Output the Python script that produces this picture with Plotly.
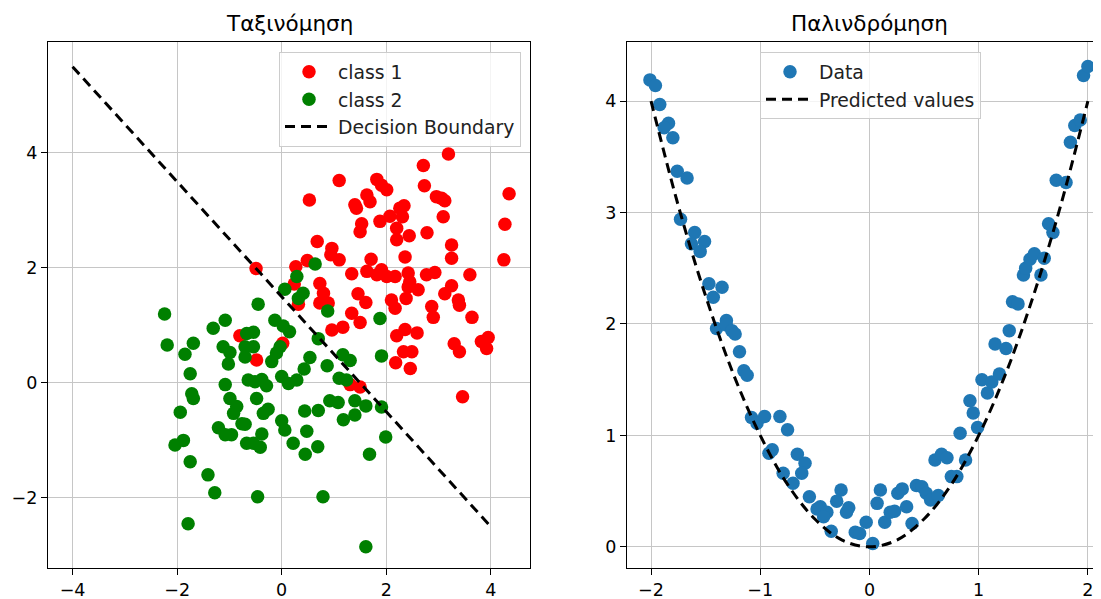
import plotly.graph_objects as go

# ---------------- Data ----------------
class1_x = [3.19, 2.71, 1.10, 1.82, 1.91, 2.01, 2.73, 4.35, 0.53, 1.63, 1.69, 1.40, 1.43, 2.96, 3.06, 3.12,
            2.26, 2.34, 2.31, 2.07, 1.88, 3.09, 4.27, 1.53, 1.50, 2.20, 2.20, 2.44, 2.78, 3.25, 3.25, 4.25,
            0.68, 0.96, 0.94, 1.10, 1.71, 2.36, 0.49, 1.34, 1.63, 1.82, 1.91, 2.01, 2.17, 2.42, 2.45, 2.77,
            2.93, 3.60, 0.73, 0.80, 0.73, 0.89, 1.46, 1.61, 2.42, 2.61, 2.38, 2.10, 2.17, 2.87, 3.25, 3.12,
            3.38, 3.40, 1.34, 2.90, 3.64, 1.50, 0.96, 1.17, 2.20, 2.36, 2.59, 2.33, 2.49, 2.18, 2.46, 3.30,
            3.40, 3.82, 3.95, 3.92, 3.46, 1.31, 1.50, -0.49, 0.27, 0.24, 0.32, -0.80, 0.02, -0.48]
class1_y = [3.98, 3.78, 3.52, 3.54, 3.44, 3.36, 3.43, 3.29, 3.18, 3.27, 3.15, 3.10, 3.04, 3.24, 3.21, 3.17,
            3.04, 3.08, 2.89, 2.90, 2.81, 2.89, 2.76, 2.77, 2.63, 2.69, 2.49, 2.56, 2.61, 2.40, 2.17, 2.14,
            2.46, 2.34, 2.23, 2.14, 2.15, 2.19, 2.13, 1.90, 1.94, 1.88, 1.97, 1.85, 1.85, 1.91, 1.76, 1.88,
            1.92, 1.88, 1.73, 1.56, 1.39, 1.39, 1.55, 1.40, 1.67, 1.62, 1.47, 1.44, 1.30, 1.33, 1.69, 1.55,
            1.44, 1.35, 1.21, 1.14, 1.14, 1.05, 0.92, 0.97, 0.82, 0.93, 0.87, 0.54, 0.54, 0.35, 0.25, 0.68,
            0.54, 0.72, 0.79, 0.60, -0.24, -0.03, -0.07, 1.99, 2.02, 1.72, 1.37, 0.82, 0.69, 0.40]

class2_x = [0.64, 0.29, 0.06, 0.41, 0.32, -0.45, -2.24, -1.08, -0.13, 0.88, 1.88, -1.31, 0.03, 0.15,
            -0.67, -0.54, -2.19, -1.69, -1.85, -1.12, -0.99, -1.02, -0.70, -0.54, -0.70, -0.03, -0.10,
            -0.19, -1.75, -1.08, -0.64, -0.51, -0.38, -0.29, 0.00, 0.13, 0.29, 0.43, 0.54, 0.70, 0.87,
            -1.72, -1.69, -1.94, -0.99, -0.86, -0.92, -0.48, -0.26, -0.35, -0.76, -0.70, -1.21, -1.08,
            -0.96, -0.38, 0.00, 0.06, 0.44, 0.70, 0.48, -2.04, -1.88, -0.67, -0.54, -0.41, 0.22, 0.45,
            0.69, -1.75, -1.41, -1.28, -0.46, 0.79, -1.79, 1.17, 1.31, 1.91, 1.10, 1.24, 0.92, 1.08,
            1.40, 1.61, 1.91, 1.40, 1.18, 1.99, 1.68, 1.61]
class2_y = [2.07, 1.85, 1.63, 1.56, 1.47, 1.37, 1.20, 1.09, 1.09, 1.25, 1.12, 0.95, 0.99, 0.89,
            0.86, 0.88, 0.66, 0.69, 0.50, 0.63, 0.53, 0.33, 0.63, 0.63, 0.45, 0.63, 0.52,
            0.37, 0.16, -0.03, 0.05, 0.02, 0.06, -0.05, 0.11, -0.01, 0.05, 0.24, 0.44, 0.77, 0.30,
            -0.19, -0.27, -0.51, -0.27, -0.41, -0.53, -0.27, -0.46, -0.53, -0.71, -0.72, -0.78, -0.90,
            -0.90, -0.89, -0.66, -0.82, -0.49, -0.48, -0.84, -1.08, -1.00, -1.05, -1.05, -1.12, -1.05, -1.24,
            -1.11, -1.37, -1.60, -1.91, -1.98, -1.98, -2.45, 0.49, 0.39, 0.47, 0.08, 0.05, -0.31, -0.34,
            -0.31, -0.40, -0.42, -0.56, -0.64, -0.94, -1.24, -2.85]

boundary_x = [-4.0, 4.0]
boundary_y = [5.5, -2.5]

reg_x = [-2.01, -1.96, -1.92, -1.84, -1.88, -1.80, -1.76, -1.67, -1.73, -1.60, -1.63, -1.51, -1.55, -1.47,
         -1.35, -1.43, -1.31, -1.40, -1.31, -1.26, -1.23, -1.19, -1.15, -1.12, -1.08, -1.03, -0.96, -0.82,
         -0.75, -0.89, -0.92, -0.66, -0.59, -0.62, -0.79, -0.70, -0.55, -0.45, -0.48, -0.39, -0.42, -0.26,
         -0.30, -0.19, -0.21, -0.35, -0.13, -0.09, -0.03, 0.03, 0.10, 0.07, 0.14, 0.19, 0.23, 0.26, 0.30,
         0.34, 0.39, 0.43, 0.48, 0.52, 0.56, 0.63, 0.60, 0.66, 0.71, 0.75, 0.80, 0.88, 0.83, 0.99, 0.95,
         0.92, 1.08, 1.03, 1.12, 1.19, 1.15, 1.25, 1.28, 1.31, 1.36, 1.41, 1.43, 1.47, 1.51, 1.57, 1.60,
         1.64, 1.68, 1.71, 1.80, 1.84, 1.88, 1.93, 1.96, 2.00]
reg_y = [4.19, 4.14, 3.97, 3.80, 3.76, 3.67, 3.37, 3.31, 2.94, 2.82, 2.72, 2.74, 2.65, 2.36,
         2.33, 2.24, 2.03, 1.96, 1.99, 1.94, 1.91, 1.75, 1.58, 1.54, 1.16, 1.11, 1.17, 1.17,
         1.05, 0.87, 0.84, 0.83, 0.75, 0.66, 0.66, 0.57, 0.45, 0.36, 0.34, 0.31, 0.27, 0.51,
         0.41, 0.35, 0.31, 0.14, 0.13, 0.12, 0.22, 0.03, 0.51, 0.39, 0.22, 0.31, 0.32, 0.48, 0.52,
         0.36, 0.21, 0.55, 0.54, 0.48, 0.42, 0.46, 0.78, 0.83, 0.80, 0.63, 0.63, 0.78, 1.02, 1.07, 1.20,
         1.31, 1.38, 1.50, 1.48, 1.55, 1.82, 1.78, 1.94, 2.20, 2.18, 2.44, 2.50, 2.58, 2.63, 2.44, 2.59,
         2.90, 2.82, 3.29, 3.27, 3.63, 3.78, 3.83, 4.23, 4.31]

pred_x = [-2.0, -1.75, -1.5, -1.25, -1.0, -0.75, -0.5, -0.25, 0.0, 0.25, 0.5, 0.75, 1.0, 1.25, 1.5, 1.75, 2.0]
pred_y = [4.0, 3.06, 2.25, 1.56, 1.0, 0.56, 0.25, 0.06, 0.0, 0.06, 0.25, 0.56, 1.0, 1.56, 2.25, 3.06, 4.0]

titles = ["Ταξινόμηση", "Παλινδρόμηση"]

# ---------------- Figure ----------------
W, H = 1101, 599
OFF = 8  # page body margin offset
FONT = "DejaVu Sans"
MS = 13.5


def px_x(s):
    return (s - OFF) / W


def px_y(s):
    return 1 - (s - OFF) / H


fig = go.Figure()
fig.add_trace(go.Scatter(x=class1_x, y=class1_y, mode="markers", name="class 1",
                         marker=dict(color="red", size=MS, line=dict(width=0)),
                         xaxis="x", yaxis="y", legend="legend"))
fig.add_trace(go.Scatter(x=class2_x, y=class2_y, mode="markers", name="class 2",
                         marker=dict(color="green", size=MS, line=dict(width=0)),
                         xaxis="x", yaxis="y", legend="legend"))
fig.add_trace(go.Scatter(x=boundary_x, y=boundary_y, mode="lines", name="Decision Boundary",
                         line=dict(color="black", width=3, dash="10px,6px"),
                         xaxis="x", yaxis="y", legend="legend"))
fig.add_trace(go.Scatter(x=reg_x, y=reg_y, mode="markers", name="Data",
                         marker=dict(color="#1f77b4", size=MS, line=dict(width=0)),
                         xaxis="x2", yaxis="y2", legend="legend2"))
fig.add_trace(go.Scatter(x=pred_x, y=pred_y, mode="lines", name="Predicted values",
                         line=dict(color="black", width=3, dash="10px,6px", shape="spline"),
                         xaxis="x2", yaxis="y2", legend="legend2"))

ax_common = dict(showline=True, linecolor="black", linewidth=1.3,
                 ticks="outside", ticklen=6, tickwidth=1.3, tickcolor="black",
                 showgrid=True, gridcolor="#c6c6c6", gridwidth=1, zeroline=False,
                 tickfont=dict(family=FONT, size=17.5, color="black"))

ytop = px_y(42)
ybot = px_y(568)

leg_common = dict(bgcolor="rgba(255,255,255,0.8)", bordercolor="#cccccc", borderwidth=1,
                  itemwidth=48, font=dict(family=FONT, size=18.8, color="#222222"))

fig.update_layout(
    width=W, height=H,
    margin=dict(l=0, r=0, t=0, b=0),
    paper_bgcolor="white", plot_bgcolor="white",
    font=dict(family=FONT, color="black"),
    xaxis=dict(domain=[px_x(48), px_x(530)], range=[-4.47, 4.75], tickvals=[-4, -2, 0, 2, 4],
               mirror=True, anchor="y", **ax_common),
    yaxis=dict(domain=[ybot, ytop], range=[-3.22, 5.93], tickvals=[-2, 0, 2, 4],
               mirror=True, anchor="x", **ax_common),
    xaxis2=dict(domain=[px_x(627), px_x(1101)], range=[-2.22, 2.12], tickvals=[-2, -1, 0, 1, 2],
                mirror=True, anchor="y2", **ax_common),
    yaxis2=dict(domain=[ybot, ytop], range=[-0.19, 4.53], tickvals=[0, 1, 2, 3, 4],
                mirror=False, anchor="x2", **ax_common),
    legend=dict(x=px_x(521), xanchor="right", y=px_y(52), yanchor="top", **leg_common),
    legend2=dict(x=px_x(981), xanchor="right", y=px_y(52), yanchor="top", **leg_common),
    annotations=[
        dict(text=titles[0], x=px_x(289), y=px_y(23), xref="paper", yref="paper",
             xanchor="center", yanchor="middle", showarrow=False,
             font=dict(family=FONT, size=21.5, color="black")),
        dict(text=titles[1], x=px_x(869), y=px_y(23), xref="paper", yref="paper",
             xanchor="center", yanchor="middle", showarrow=False,
             font=dict(family=FONT, size=21.5, color="black")),
    ],
)

fig.write_html("out.html")
